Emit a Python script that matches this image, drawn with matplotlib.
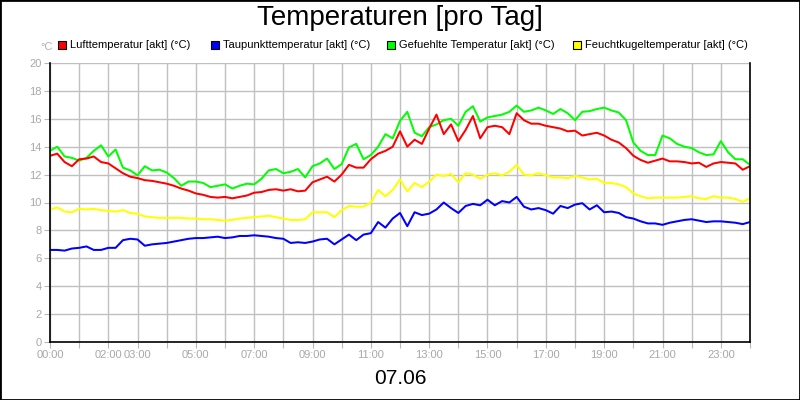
import matplotlib.pyplot as plt
import numpy as np
from matplotlib.patches import Rectangle

plt.rcParams['font.family'] = ['Liberation Sans', 'DejaVu Sans']

# Messwerte im 15-Minuten-Raster (00:00 .. 24:00)
hours = np.arange(97) * 0.25

luft = [13.35, 13.5, 12.9, 12.6, 13.1, 13.15, 13.3, 12.9, 12.8, 12.45, 12.1, 11.85, 11.75, 11.6, 11.55, 11.45,
        11.35, 11.2, 11.0, 10.85, 10.65, 10.55, 10.4, 10.35, 10.4, 10.3, 10.4, 10.5, 10.7, 10.75, 10.9, 10.95,
        10.85, 10.95, 10.8, 10.85, 11.45, 11.65, 11.85, 11.5, 12.0, 12.7, 12.5, 12.5, 13.1, 13.5, 13.7, 14.0,
        15.1, 14.0, 14.5, 14.2, 15.3, 16.3, 14.9, 15.6, 14.4, 15.2, 16.2, 14.6, 15.4, 15.5, 15.4, 14.9,
        16.4, 15.9, 15.65, 15.65, 15.5, 15.4, 15.3, 15.1, 15.15, 14.8, 14.9, 15.0, 14.8, 14.5, 14.3, 13.9,
        13.35, 13.05, 12.85, 13.0, 13.15, 12.95, 12.95, 12.9, 12.8, 12.85, 12.55, 12.8, 12.9, 12.85, 12.8, 12.35, 12.6]

taupunkt = [6.6, 6.6, 6.55, 6.7, 6.75, 6.85, 6.6, 6.6, 6.75, 6.75, 7.3, 7.4, 7.35, 6.9, 7.0, 7.05,
            7.1, 7.2, 7.3, 7.4, 7.45, 7.45, 7.5, 7.55, 7.45, 7.5, 7.6, 7.6, 7.65, 7.6, 7.55, 7.45,
            7.4, 7.1, 7.15, 7.1, 7.2, 7.35, 7.4, 7.0, 7.35, 7.7, 7.3, 7.7, 7.8, 8.6, 8.2, 8.85,
            9.25, 8.3, 9.3, 9.1, 9.2, 9.5, 10.0, 9.6, 9.25, 9.75, 9.9, 9.8, 10.2, 9.8, 10.1, 10.0,
            10.4, 9.7, 9.5, 9.6, 9.45, 9.2, 9.75, 9.6, 9.85, 9.95, 9.5, 9.8, 9.3, 9.35, 9.25, 8.95,
            8.85, 8.65, 8.5, 8.5, 8.4, 8.55, 8.65, 8.75, 8.8, 8.7, 8.6, 8.65, 8.65, 8.6, 8.55, 8.45, 8.6]

gefuehlt = [13.7, 14.0, 13.3, 13.2, 13.0, 13.2, 13.7, 14.1, 13.3, 13.8, 12.5, 12.3, 11.95, 12.6, 12.3, 12.35,
            12.15, 11.75, 11.2, 11.5, 11.5, 11.4, 11.1, 11.2, 11.3, 11.0, 11.2, 11.35, 11.3, 11.7, 12.3, 12.4,
            12.1, 12.2, 12.4, 11.8, 12.6, 12.8, 13.15, 12.4, 12.75, 13.95, 14.2, 13.1, 13.4, 14.0, 14.9, 14.6,
            15.85, 16.5, 15.0, 14.75, 15.4, 15.6, 15.9, 16.0, 15.5, 16.5, 16.9, 15.8, 16.1, 16.2, 16.3, 16.5,
            16.95, 16.5, 16.6, 16.8, 16.6, 16.35, 16.7, 16.4, 15.9, 16.5, 16.55, 16.7, 16.8, 16.6, 16.45, 15.9,
            14.3, 13.7, 13.4, 13.4, 14.8, 14.6, 14.2, 14.0, 13.9, 13.6, 13.4, 13.45, 14.4, 13.6, 13.1, 13.1, 12.7]

feuchtkugel = [9.5, 9.65, 9.35, 9.3, 9.55, 9.5, 9.55, 9.45, 9.4, 9.35, 9.45, 9.25, 9.2, 9.0, 8.95, 8.9,
               8.9, 8.9, 8.9, 8.85, 8.85, 8.8, 8.8, 8.75, 8.7, 8.75, 8.85, 8.9, 8.95, 9.0, 9.05, 8.95,
               8.85, 8.75, 8.75, 8.8, 9.3, 9.3, 9.3, 8.95, 9.45, 9.75, 9.7, 9.7, 10.0, 10.9, 10.45, 10.9,
               11.65, 10.8, 11.4, 11.1, 11.5, 12.0, 11.9, 12.05, 11.45, 12.1, 12.0, 11.7, 12.0, 12.1, 11.95, 12.2,
               12.7, 12.0, 11.95, 12.1, 11.95, 11.8, 11.8, 11.75, 11.9, 11.8, 11.65, 11.7, 11.4, 11.4, 11.3, 11.1,
               10.65, 10.45, 10.3, 10.35, 10.35, 10.35, 10.35, 10.4, 10.45, 10.3, 10.25, 10.45, 10.35, 10.35, 10.25, 10.05, 10.3]

labels = ['Lufttemperatur [akt] (°C)', 'Taupunkttemperatur [akt] (°C)',
          'Gefuehlte Temperatur [akt] (°C)', 'Feuchtkugeltemperatur [akt] (°C)']
colors = ['#ff0000', '#0000ff', '#00ff00', '#ffff00']

xtick_labels = ['00:00', '', '02:00', '03:00', '', '05:00', '', '07:00', '', '09:00', '', '11:00', '',
                '13:00', '', '15:00', '', '17:00', '', '19:00', '', '21:00', '', '23:00', '']

fig = plt.figure(figsize=(8, 4), dpi=100)
ax = fig.add_axes([50 / 800, 1 - 342 / 400, 700 / 800, 279 / 400])

# gruen zuerst, rot obenauf
ax.plot(hours, gefuehlt, color=colors[2], lw=1.45)
ax.plot(hours, feuchtkugel, color=colors[3], lw=1.45)
ax.plot(hours, taupunkt, color=colors[1], lw=1.45)
ax.plot(hours, luft, color=colors[0], lw=1.45)

ax.set_xlim(0, 24)
ax.set_ylim(0, 20)
ax.set_xticks(range(25))
ax.set_xticklabels(xtick_labels)
ax.set_yticks(range(0, 21, 2))
ax.set_axisbelow(True)
ax.grid(color='#c0c0c0', lw=1)
ax.tick_params(colors='#b8b8b8', labelcolor='#a8a8a8', labelsize=8, length=4, pad=2)

ax.spines['top'].set_visible(False)
for s in ['left', 'bottom', 'right']:
    ax.spines[s].set_color('black')
    ax.spines[s].set_linewidth(1.2)

# Titel und Datum
fig.text(0.5, 1 - 18 / 400, 'Temperaturen [pro Tag]', ha='center', va='center', fontsize=20)
fig.text(0.5, 1 - 378 / 400, '07.06', ha='center', va='center', fontsize=15)
fig.text(40 / 800, 1 - 47 / 400, '°C', ha='left', va='center', fontsize=8, color='#b0b0b0')

# Legende oben
for lx, lab, col in zip([58, 211, 387, 573], labels, colors):
    fig.add_artist(Rectangle((lx / 800, 1 - 49 / 400), 8 / 800, 8 / 400, transform=fig.transFigure,
                             facecolor=col, edgecolor='black', lw=0.8))
    fig.text((lx + 12) / 800, 1 - 45 / 400, lab, ha='left', va='center', fontsize=8)

# Rahmen
fig.add_artist(Rectangle((0, 0), 1, 1, transform=fig.transFigure, fill=False, edgecolor='black', lw=2))

fig.savefig('out.png', dpi=100)
